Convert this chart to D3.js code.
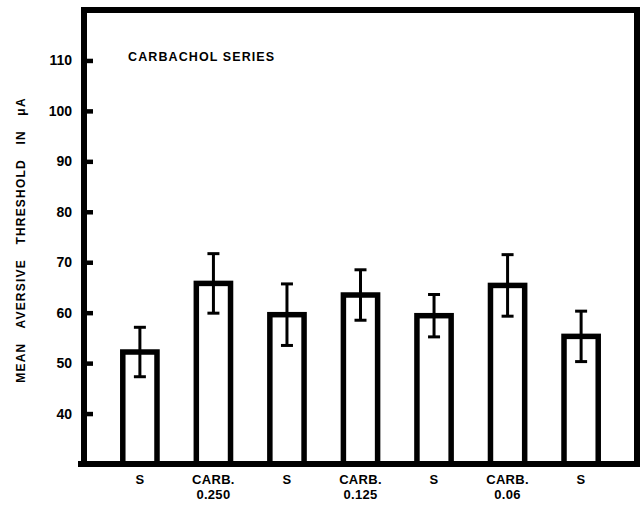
<!DOCTYPE html>
<html>
<head>
<meta charset="utf-8">
<script src="https://cdn.jsdelivr.net/npm/d3@7"></script>
<style>
  html, body { margin: 0; padding: 0; background: #fff; }
  svg { display: block; }
  text { font-family: "Liberation Sans", Arial, sans-serif; font-weight: bold; fill: #000; }
</style>
</head>
<body>
<svg id="chart" width="644" height="509"></svg>
<script>
// Carbachol series: mean aversive threshold (µA) per session, with SEM bars
const conditions = ["S", "CARB. 0.250", "S", "CARB. 0.125", "S", "CARB. 0.06", "S"];
const labelLine1 = ["S", "CARB.", "S", "CARB.", "S", "CARB.", "S"];
const labelLine2 = ["", "0.250", "", "0.125", "", "0.06", ""];
const means = [52.2, 65.8, 59.6, 63.5, 59.4, 65.4, 55.3];
const sems  = [4.9, 5.9, 6.1, 5.0, 4.2, 6.1, 5.0];
const yTicks = [40, 50, 60, 70, 80, 90, 100, 110];
const titleText = "CARBACHOL SERIES";
const yTitle = "MEAN AVERSIVE THRESHOLD IN \u03BCA";

const svg = d3.select("#chart");
const frame = { left: 84, right: 637, top: 10, bottom: 464 };

const x = d3.scaleBand()
  .domain(d3.range(conditions.length))
  .range([frame.left, frame.right])
  .paddingInner(0.46)
  .paddingOuter(0.49);

const y = d3.scaleLinear()
  .domain([30, 120])
  .range([frame.bottom, frame.top]);

const barStroke = 5.5;

// bars (open boxes)
svg.append("g").selectAll("rect")
  .data(means)
  .join("rect")
  .attr("x", (d, i) => x(i) + barStroke / 2)
  .attr("width", x.bandwidth() - barStroke)
  .attr("y", d => y(d))
  .attr("height", d => y(30) - y(d))
  .attr("fill", "#fff")
  .attr("stroke", "#000")
  .attr("stroke-width", barStroke);

// error bars
const eb = svg.append("g").attr("stroke", "#000").attr("stroke-width", 3);
means.forEach((m, i) => {
  const cx = x(i) + x.bandwidth() / 2;
  const hi = y(m + sems[i]), lo = y(m - sems[i]);
  eb.append("line").attr("x1", cx).attr("x2", cx).attr("y1", hi).attr("y2", lo);
  eb.append("line").attr("x1", cx - 6).attr("x2", cx + 6).attr("y1", hi).attr("y2", hi);
  eb.append("line").attr("x1", cx - 6).attr("x2", cx + 6).attr("y1", lo).attr("y2", lo);
});

// frame
svg.append("path")
  .attr("d", `M${frame.left - 6},${frame.bottom} H${frame.right} V${frame.top} H${frame.left} V${frame.bottom}`)
  .attr("fill", "none")
  .attr("stroke", "#000")
  .attr("stroke-width", 6)
  .attr("stroke-linejoin", "miter");

// y axis with inward ticks
const yAxis = svg.append("g")
  .attr("transform", `translate(${frame.left},0)`)
  .call(d3.axisLeft(y).tickValues(yTicks).tickSize(-9).tickPadding(12).tickFormat(d3.format("d")));
yAxis.select(".domain").remove();
yAxis.selectAll(".tick line").attr("stroke", "#000").attr("stroke-width", 4.5);
yAxis.selectAll(".tick text")
  .style("font-family", "'Liberation Sans', Arial, sans-serif")
  .style("font-weight", "bold")
  .attr("font-size", 14)
  .attr("fill", "#000");

// category labels
const xl = svg.append("g").attr("text-anchor", "middle").attr("font-size", 13);
conditions.forEach((c, i) => {
  const cx = x(i) + x.bandwidth() / 2;
  xl.append("text").attr("x", cx).attr("y", 484).attr("letter-spacing", 0.3).text(labelLine1[i]);
  if (labelLine2[i]) {
    xl.append("text").attr("x", cx).attr("y", 499).attr("letter-spacing", 0.3).text(labelLine2[i]);
  }
});

// panel title
svg.append("text")
  .attr("x", 128).attr("y", 61)
  .attr("font-size", 12.5)
  .attr("letter-spacing", 1.1)
  .text(titleText);

// y axis title
svg.append("text")
  .attr("transform", "translate(25,240) rotate(-90)")
  .attr("text-anchor", "middle")
  .attr("font-size", 12)
  .attr("letter-spacing", 1.2)
  .attr("word-spacing", 10)
  .text(yTitle);
</script>
</body>
</html>
